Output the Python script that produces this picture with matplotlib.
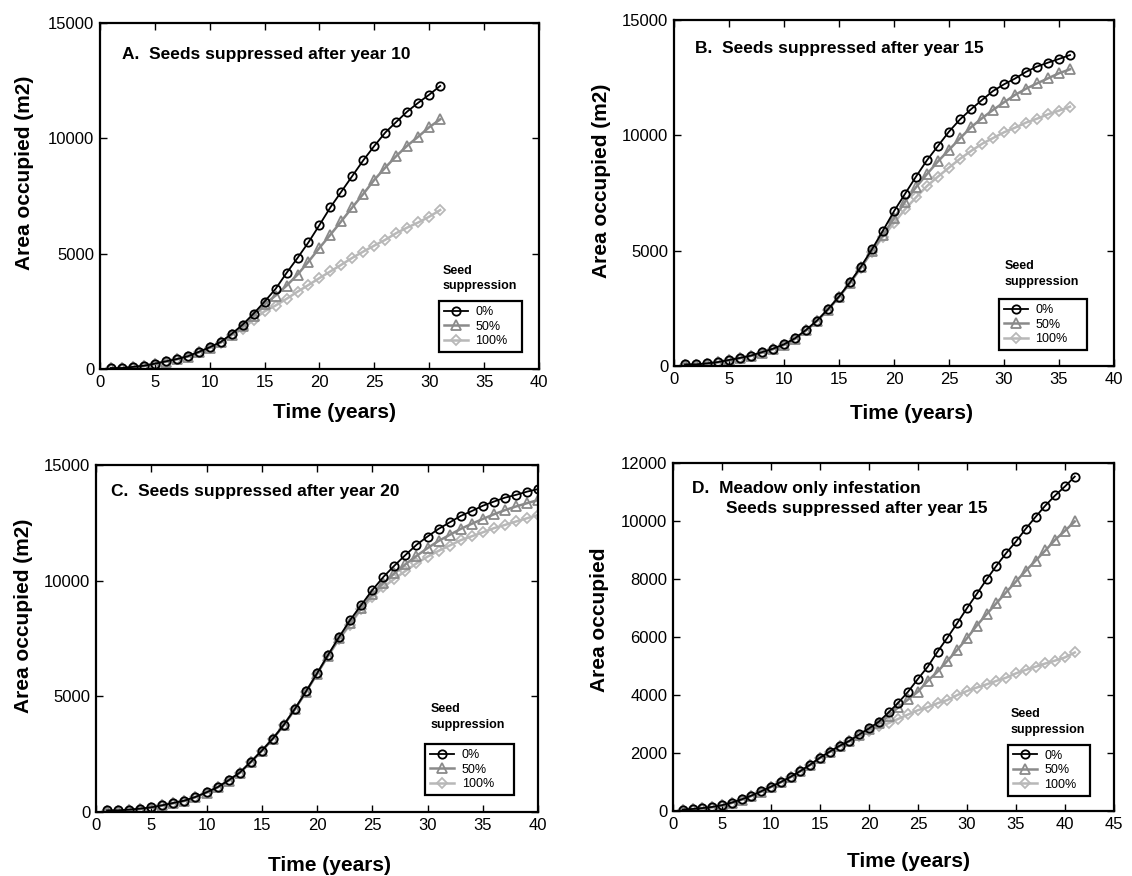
import matplotlib
matplotlib.use("Agg")
import matplotlib.pyplot as plt

plt.rcParams['font.family'] = ['Liberation Sans', 'DejaVu Sans']

# ---- data ----
labels = ['0%', '50%', '100%']

years_a = list(range(1, 32))
a_0 = [40, 40, 90, 140, 230, 330, 430, 550, 740, 940, 1170, 1520, 1920, 2400, 2920, 3470,
       4160, 4810, 5490, 6240, 7010, 7690, 8370, 9050, 9670, 10250, 10710, 11160, 11540, 11890, 12270]
a_50 = [30, 30, 80, 130, 220, 320, 420, 540, 720, 920, 1150, 1490, 1850, 2300, 2800, 3180,
        3610, 4090, 4650, 5250, 5820, 6410, 7010, 7590, 8200, 8730, 9230, 9680, 10070, 10480, 10820]
a_100 = [30, 30, 80, 130, 220, 320, 420, 540, 720, 920, 1140, 1470, 1730, 2140, 2500, 2750,
         3040, 3350, 3640, 3940, 4230, 4520, 4820, 5090, 5350, 5600, 5890, 6130, 6350, 6600, 6890]

years_b = list(range(1, 37))
b_0 = [70, 70, 115, 170, 260, 350, 450, 600, 750, 940, 1200, 1560, 1970, 2460, 3010, 3630, 4310, 5060,
       5870, 6710, 7460, 8210, 8920, 9540, 10160, 10690, 11130, 11530, 11920, 12210, 12460, 12750,
       12980, 13150, 13310, 13480]
b_50 = [50, 50, 100, 160, 250, 340, 440, 580, 730, 920, 1180, 1540, 1950, 2440, 2990, 3600, 4270, 4990,
        5680, 6400, 7120, 7750, 8320, 8870, 9370, 9870, 10350, 10740, 11100, 11430, 11750, 12020,
        12250, 12470, 12690, 12860]
b_100 = [50, 50, 100, 160, 250, 340, 440, 580, 730, 920, 1180, 1540, 1950, 2440, 2990, 3600, 4260, 4960,
         5600, 6200, 6790, 7310, 7800, 8210, 8600, 8980, 9320, 9630, 9880, 10130, 10330, 10550,
         10720, 10910, 11070, 11240]

years_c = list(range(1, 41))
c_0 = [70, 70, 100, 145, 200, 290, 390, 490, 650, 850, 1070, 1370, 1700, 2160, 2650, 3170, 3770, 4460,
       5210, 5990, 6790, 7570, 8300, 8950, 9590, 10160, 10650, 11110, 11550, 11910, 12240, 12520,
       12800, 13010, 13240, 13420, 13590, 13710, 13850, 13960]
c_50 = [50, 50, 90, 130, 190, 280, 380, 480, 640, 840, 1060, 1360, 1690, 2150, 2640, 3160, 3760, 4440,
        5190, 5970, 6760, 7510, 8150, 8840, 9410, 9890, 10320, 10710, 11070, 11410, 11720, 11980,
        12240, 12460, 12670, 12870, 13050, 13210, 13350, 13490]
c_100 = [50, 50, 90, 130, 190, 280, 380, 480, 640, 840, 1060, 1360, 1690, 2150, 2640, 3160, 3760, 4440,
         5190, 5970, 6740, 7470, 8100, 8780, 9280, 9720, 10080, 10420, 10750, 11040, 11290, 11520,
         11750, 11920, 12090, 12270, 12410, 12560, 12700, 12840]

years_d = list(range(1, 42))
d_0 = [50, 70, 100, 140, 200, 290, 400, 530, 680, 840, 1000, 1180, 1380, 1600, 1840, 2050, 2250, 2420,
       2640, 2850, 3080, 3400, 3740, 4120, 4560, 4980, 5500, 5980, 6480, 7000, 7490, 7990, 8460,
       8900, 9300, 9740, 10150, 10540, 10890, 11200, 11540]
d_50 = [40, 60, 90, 130, 190, 280, 390, 520, 670, 830, 990, 1170, 1370, 1590, 1830, 2040, 2240, 2410,
        2620, 2820, 3020, 3280, 3580, 3850, 4120, 4490, 4810, 5180, 5560, 5960, 6400, 6790, 7170,
        7550, 7920, 8290, 8640, 8990, 9360, 9670, 9990]
d_100 = [40, 60, 90, 130, 190, 280, 390, 520, 670, 830, 990, 1170, 1370, 1590, 1830, 2040, 2230, 2400,
         2580, 2760, 2920, 3030, 3180, 3330, 3480, 3580, 3720, 3830, 4000, 4140, 4260, 4370, 4490,
         4600, 4750, 4870, 4980, 5090, 5190, 5300, 5470]

# line styles per suppression level
STYLES = [
    dict(color='black', marker='o', ms=6, lw=1.3, mew=1.3, zorder=3),
    dict(color='#8a8a8a', marker='^', ms=7, lw=1.8, mew=1.3, zorder=2),
    dict(color='#b8b8b8', marker='D', ms=5, lw=1.8, mew=1.3, zorder=1),
]

fig = plt.figure(figsize=(11.32, 8.76), dpi=100)


def panel(rect, years, series, title, ylabel, ylim, yticks, xlim, xticks,
          ylab_xy, xlab_xy, title_xy, leg_box, seed_xy, title2=None):
    ax = fig.add_axes(rect)
    for vals, lab, st in zip(series, labels, STYLES):
        ax.plot(years, vals, label=lab, mfc='none', **st)
    ax.set_xlim(*xlim)
    ax.set_ylim(*ylim)
    ax.set_xticks(xticks)
    ax.set_yticks(yticks)
    ax.tick_params(direction='in', top=True, right=True, length=5, width=1,
                   labelsize=12, pad=4)
    for s in ax.spines.values():
        s.set_linewidth(1.6)
    ax.set_xlabel('Time (years)', fontsize=15, fontweight='bold', va='center')
    ax.xaxis.set_label_coords(*xlab_xy)
    ax.set_ylabel(ylabel, fontsize=15, fontweight='bold', va='center', ha='center')
    ax.yaxis.set_label_coords(*ylab_xy)
    ax.text(title_xy[0], title_xy[1], title, transform=ax.transAxes,
            fontsize=12.5, fontweight='bold', va='center')
    if title2 is not None:
        ax.text(title2[1][0], title2[1][1], title2[0], transform=ax.transAxes,
                fontsize=12.5, fontweight='bold', va='center')
    ax.text(seed_xy[0], seed_xy[1], 'Seed\nsuppression', transform=ax.transAxes,
            fontsize=9, fontweight='bold', va='top', linespacing=1.35)
    leg = ax.legend(loc='lower left', bbox_to_anchor=leg_box, mode='expand',
                    borderaxespad=0, fontsize=9, handlelength=1.9, handletextpad=0.6,
                    labelspacing=0.2, borderpad=0.4, fancybox=False,
                    edgecolor='black', framealpha=1)
    leg.get_frame().set_linewidth(1.6)
    return ax


panel([0.0883, 0.5788, 0.3878, 0.395], years_a, [a_0, a_50, a_100],
      'A.  Seeds suppressed after year 10', 'Area occupied (m2)',
      (0, 15000), [0, 5000, 10000, 15000], (0, 40), range(0, 41, 5),
      (-0.171, 0.566), (0.535, -0.127), (0.05, 0.91), (0.773, 0.049, 0.188, 0.156), (0.78, 0.30))

panel([0.5954, 0.5822, 0.3887, 0.395], years_b, [b_0, b_50, b_100],
      'B.  Seeds suppressed after year 15', 'Area occupied (m2)',
      (0, 15000), [0, 5000, 10000, 15000], (0, 40), range(0, 41, 5),
      (-0.164, 0.535), (0.539, -0.136), (0.047, 0.918), (0.739, 0.046, 0.2, 0.166), (0.751, 0.305))

panel([0.0848, 0.0731, 0.3905, 0.396], years_c, [c_0, c_50, c_100],
      'C.  Seeds suppressed after year 20', 'Area occupied (m2)',
      (0, 15000), [0, 5000, 10000, 15000], (0, 40), range(0, 41, 5),
      (-0.164, 0.565), (0.529, -0.153), (0.033, 0.923), (0.745, 0.048, 0.2, 0.17), (0.757, 0.313))

panel([0.5945, 0.0742, 0.3896, 0.397], years_d, [d_0, d_50, d_100],
      'D.  Meadow only infestation', 'Area occupied',
      (0, 12000), list(range(0, 12001, 2000)), (0, 45), range(0, 46, 5),
      (-0.166, 0.549), (0.533, -0.144), (0.044, 0.928), (0.76, 0.044, 0.186, 0.157), (0.766, 0.295),
      title2=('Seeds suppressed after year 15', (0.12, 0.869)))

fig.savefig('out.png', dpi=100)
